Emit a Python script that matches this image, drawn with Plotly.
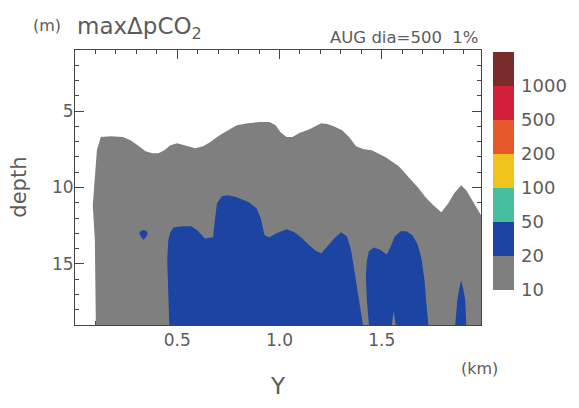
import plotly.graph_objects as go

# --- contour level bands (maxΔpCO2) ---
levels = [10, 20, 50, 100, 200, 500, 1000]
band_colors = ["#7f7f7f", "#1c45a3", "#45bf9e", "#f0c21c", "#e4582a", "#d21f3a", "#7a2c2a"]

# --- region boundaries: Y (km) and depth (m) ---
# 10-20 band (gray): left edge, upper outline, right edge
gray_y = [0.102, 0.097, 0.087, 0.092, 0.102, 0.107, 0.126, 0.175, 0.233, 0.272, 0.306,
          0.345, 0.379, 0.408, 0.437, 0.466, 0.500, 0.539, 0.587, 0.626, 0.660, 0.709,
          0.757, 0.791, 0.845, 0.903, 0.951, 0.981, 1.005, 1.034, 1.063, 1.097, 1.146,
          1.175, 1.204, 1.233, 1.262, 1.306, 1.340, 1.374, 1.413, 1.451, 1.519, 1.583,
          1.646, 1.680, 1.714, 1.752, 1.791, 1.825, 1.854, 1.888, 1.913, 1.942, 1.971,
          1.985, 1.985]
gray_depth = [19.0, 13.46, 11.16, 10.18, 8.87, 7.56, 6.70, 6.64, 6.70, 6.90, 7.23,
              7.62, 7.75, 7.75, 7.56, 7.23, 7.10, 7.23, 7.43, 7.30, 7.03, 6.57,
              6.18, 5.92, 5.79, 5.72, 5.72, 5.92, 6.38, 6.70, 6.70, 6.44, 6.18,
              5.98, 5.79, 5.85, 5.98, 6.25, 6.70, 7.30, 7.49, 7.56, 8.02, 8.61,
              9.52, 10.05, 10.64, 11.16, 11.62, 11.03, 10.38, 9.85, 10.18, 10.84, 11.49,
              11.82, 19.0]

# 20-50 band (blue): main body
blue_main_y = [0.461, 0.456, 0.451, 0.456, 0.466, 0.481, 0.524, 0.568, 0.597, 0.636,
               0.675, 0.684, 0.694, 0.718, 0.748, 0.791, 0.850, 0.888, 0.908, 0.927,
               0.951, 0.985, 1.034, 1.073, 1.112, 1.146, 1.180, 1.204, 1.233, 1.267,
               1.301, 1.330, 1.350, 1.364, 1.379, 1.393, 1.408]
blue_main_depth = [19.0, 16.74, 14.77, 13.46, 12.93, 12.61, 12.54, 12.54, 12.80, 13.33,
                   13.26, 12.15, 11.03, 10.57, 10.51, 10.64, 10.97, 11.36, 12.02, 13.13,
                   13.26, 13.00, 12.74, 12.93, 13.33, 13.79, 14.18, 14.31, 13.85, 13.33,
                   12.93, 13.20, 14.11, 15.23, 16.54, 17.72, 19.0]

# 20-50 band (blue): twin lobes near 1.5-1.7 km
blue_twin_y = [1.437, 1.427, 1.422, 1.427, 1.437, 1.461, 1.490, 1.524, 1.544, 1.563,
               1.592, 1.621, 1.650, 1.675, 1.694, 1.709, 1.718, 1.728, 1.568, 1.558,
               1.549]
blue_twin_depth = [19.0, 17.39, 15.75, 14.77, 14.18, 13.92, 14.05, 14.38, 13.85, 13.20,
                   12.87, 12.87, 13.13, 13.72, 14.64, 16.08, 17.59, 19.0, 19.0, 18.11,
                   19.0]

# 20-50 band (blue): narrow tongue near 1.9 km
blue_tongue_y = [1.859, 1.869, 1.879, 1.888, 1.898, 1.908, 1.913]
blue_tongue_depth = [19.0, 17.39, 16.61, 16.08, 16.61, 17.39, 19.0]

# 20-50 band (blue): isolated spot
blue_spot_y = [0.335, 0.348, 0.356, 0.348, 0.335, 0.322, 0.314, 0.322]
blue_spot_depth = [12.78, 12.84, 13.00, 13.22, 13.42, 13.22, 13.00, 12.84]

x_ticks = [0.5, 1.0, 1.5]
depth_ticks = [5, 10, 15]

TEXT = "#5c5c5c"
FONT = "DejaVu Sans"

fig = go.Figure()


def region(xs, ys, color):
    fig.add_trace(go.Scatter(
        x=xs, y=ys, mode="lines", fill="toself", fillcolor=color,
        line=dict(width=0, color=color), hoverinfo="skip", showlegend=False))


region(gray_y, gray_depth, band_colors[0])
region(blue_main_y, blue_main_depth, band_colors[1])
region(blue_twin_y, blue_twin_depth, band_colors[1])
region(blue_tongue_y, blue_tongue_depth, band_colors[1])
region(blue_spot_y, blue_spot_depth, band_colors[1])

# stepped colour scale for the legend bar
n = len(band_colors)
scale = []
for i, c in enumerate(band_colors):
    scale.append([i / n, c])
    scale.append([(i + 1) / n, c])

fig.add_trace(go.Scatter(
    x=[None], y=[None], mode="markers", showlegend=False, hoverinfo="skip",
    marker=dict(
        color=[0], cmin=0, cmax=n, colorscale=scale, showscale=True,
        colorbar=dict(
            x=1.029, xanchor="left", xpad=0,
            y=0.127, yanchor="bottom", len=0.866, lenmode="fraction", ypad=0,
            thickness=21, outlinewidth=0,
            tickmode="array", tickvals=list(range(len(levels))),
            ticktext=[str(v) for v in levels],
            ticks="outside", ticklen=4, tickcolor="rgba(0,0,0,0)",
            tickfont=dict(family=FONT, size=18, color=TEXT),
        ),
    ),
))

axis_common = dict(
    showgrid=False, zeroline=False, showline=True, linecolor="#444444", linewidth=1,
    mirror="ticks", ticks="inside", ticklen=9, tickcolor="#444444", tickwidth=1,
    layer="below traces", tickfont=dict(family=FONT, size=17, color=TEXT),
)

fig.update_xaxes(
    range=[0, 1.985], tickmode="array", tickvals=x_ticks, tickformat=".1f",
    minor=dict(dtick=0.1, tick0=0, ticks="inside", ticklen=4, tickcolor="#444444"),
    ticklabelstandoff=0,
    **axis_common,
)
fig.update_yaxes(
    range=[19, 1], tickmode="array", tickvals=depth_ticks,
    minor=dict(dtick=1, tick0=0, ticks="inside", ticklen=4, tickcolor="#444444"),
    ticklabelstandoff=-3,
    **axis_common,
)

fig.update_layout(
    width=579, height=408, autosize=False,
    margin=dict(l=75, r=96, t=50, b=83),
    paper_bgcolor="white", plot_bgcolor="white",
    font=dict(family=FONT, color=TEXT),
    annotations=[
        dict(text="(m)", xref="paper", yref="paper", x=-0.068, y=1.09,
             xanchor="center", yanchor="middle", showarrow=False,
             font=dict(size=16, color=TEXT)),
        dict(text="maxΔpCO<sub>2</sub>", xref="paper", yref="paper", x=0.0, y=1.08,
             xanchor="left", yanchor="middle", showarrow=False,
             font=dict(size=23, color=TEXT)),
        dict(text="AUG dia=500  1%", xref="paper", yref="paper", x=1.0, y=1.045,
             xanchor="right", yanchor="middle", showarrow=False,
             font=dict(size=16.5, color=TEXT)),
        dict(text="depth", xref="paper", yref="paper", x=-0.14, y=0.5,
             xanchor="center", yanchor="middle", showarrow=False, textangle=-90,
             font=dict(size=21, color=TEXT)),
        dict(text="Y", xref="paper", yref="paper", x=0.5, y=-0.22,
             xanchor="center", yanchor="middle", showarrow=False,
             font=dict(size=23, color=TEXT)),
        dict(text="(km)", xref="paper", yref="paper", x=0.997, y=-0.157,
             xanchor="center", yanchor="middle", showarrow=False,
             font=dict(size=16, color=TEXT)),
    ],
)

fig.write_html("out.html")
